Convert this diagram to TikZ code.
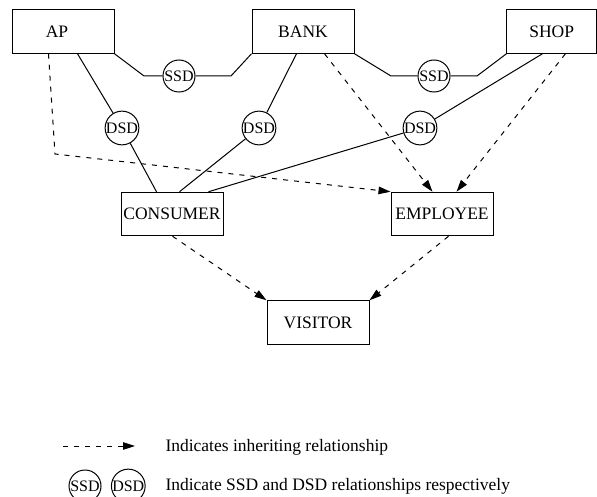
\documentclass[tikz,border=0pt]{standalone}
\usepackage{fontspec}
\setmainfont{Liberation Serif}
\usetikzlibrary{arrows.meta}
\begin{document}
\begin{tikzpicture}[x=1pt,y=-1pt,
  every path/.style={line width=1pt},
  role/.style={draw, rectangle, minimum width=102pt, minimum height=43.5pt,
    inner sep=0pt, font=\fontsize{17.5}{20}\selectfont},
  constraint/.style={draw, circle, minimum size=32pt, inner sep=0pt,
    font=\fontsize{16}{18}\selectfont},
  inherit/.style={dash pattern=on 5pt off 6pt,
    -{Triangle[length=12pt,width=7.5pt]}},
  legendtext/.style={anchor=west, inner sep=0pt, font=\fontsize{17.5}{20}\selectfont}]
\useasboundingbox (0,0) rectangle (597,497);

% roles
\node[role] (AP)       at (63,31.5)  {\hspace*{-12pt}AP};
\node[role] (BANK)     at (303,31.5) {BANK};
\node[role, minimum width=89.5pt] (SHOP) at (551.7,31.5) {SHOP};
\node[role] (CONSUMER) at (172,214)  {CONSUMER};
\node[role] (EMPLOYEE) at (442,214)  {EMPLOYEE};
\node[role] (VISITOR)  at (318,322.5) {VISITOR};

% static separation of duty
\node[constraint] (ssd1) at (179,76) {SSD};
\node[constraint] (ssd2) at (434,76) {SSD};
\coordinate (s1a) at (144,76);
\coordinate (s1b) at (231,76);
\coordinate (s2a) at (391,76);
\coordinate (s2b) at (477,76);
\draw (AP.south east) -- (s1a) -- (ssd1.west);
\draw (ssd1.east) -- (s1b) -- (BANK.south west);
\draw (BANK.south east) -- (s2a) -- (ssd2.west);
\draw (ssd2.east) -- (s2b) -- (SHOP.south west);

% dynamic separation of duty
\node[constraint] (dsd1) at (122,128) {DSD};
\node[constraint] (dsd2) at (259,128) {DSD};
\node[constraint] (dsd3) at (420,128) {DSD};
\draw ([xshift=66pt]AP.south west) -- (dsd1);
\draw (dsd1) -- ([xshift=36pt]CONSUMER.north west);
\draw ([xshift=45pt]BANK.south west) -- (dsd2);
\draw (dsd2) -- ([xshift=59pt]CONSUMER.north west);
\draw ([xshift=36pt]SHOP.south west) -- (dsd3);
\draw (dsd3) -- ([xshift=88pt]CONSUMER.north west);

% inheritance
\coordinate (apbend) at (55,154);
\draw[inherit] ([xshift=37pt]AP.south west) -- (apbend) -- (EMPLOYEE.north west);
\draw[inherit] ([xshift=73pt]BANK.south west) -- ([xshift=42pt]EMPLOYEE.north west);
\draw[inherit] ([xshift=59pt]SHOP.south west) -- ([xshift=66pt]EMPLOYEE.north west);
\draw[inherit] ([xshift=52pt]CONSUMER.south west) -- (VISITOR.north west);
\draw[inherit] ([xshift=58pt]EMPLOYEE.south west) -- (VISITOR.north east);

% legend
\coordinate (lgA) at (63,446);
\coordinate (lgB) at (135,446);
\draw[inherit] (lgA) -- (lgB);
\node[legendtext] (lgt1) at (165,447) {Indicates inheriting relationship};
\node[constraint] (lgssd) at (85,486) {SSD};
\node[constraint] (lgdsd) at (128.3,486) {DSD};
\node[legendtext] (lgt2) at (165,486) {Indicate SSD and DSD relationships respectively};
\end{tikzpicture}
\end{document}
